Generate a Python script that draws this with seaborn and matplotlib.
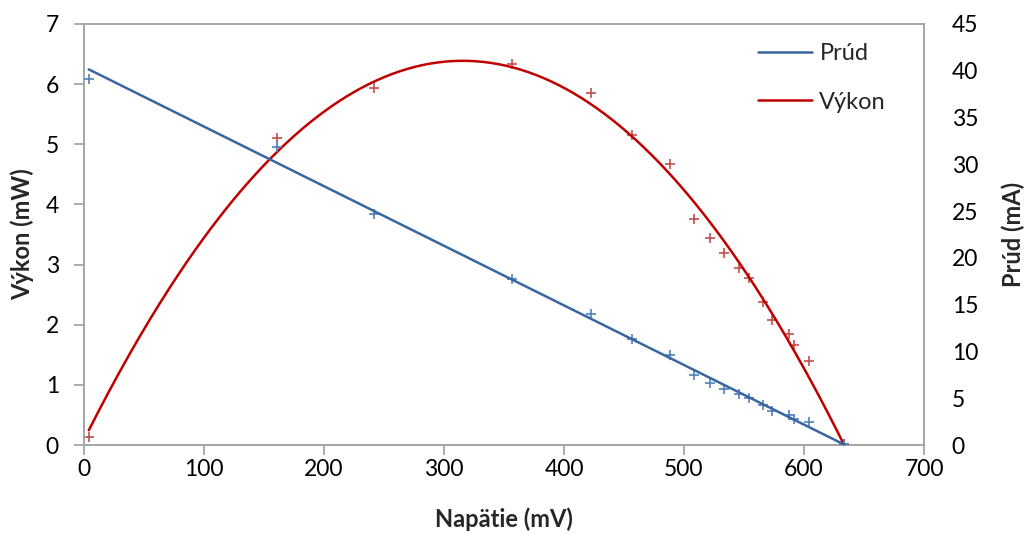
import numpy as np
import pandas as pd
import matplotlib
matplotlib.use("Agg")
import matplotlib.pyplot as plt
import seaborn as sns

# --- data ---
napatie_mV = [4, 160.6, 241.4, 356.5, 422.2, 456.4, 488.0, 508.5, 521.4, 533.5,
              545.8, 553.9, 566.0, 573.3, 587.6, 591.8, 604.4, 633.6]
prud_mA = [39.13, 31.83, 24.7, 17.75, 14.0, 11.33, 9.65, 7.43, 6.66, 5.99,
           5.45, 5.06, 4.28, 3.63, 3.21, 2.78, 2.43, 0.07]
vykon_mW = [0.14, 5.10, 5.93, 6.335, 5.86, 5.155, 4.68, 3.765, 3.44, 3.20,
            2.95, 2.77, 2.37, 2.08, 1.85, 1.67, 1.40, 0.02]

x_ticks = [0, 100, 200, 300, 400, 500, 600, 700]
left_ticks = [0, 1, 2, 3, 4, 5, 6, 7]
right_ticks = [0, 5, 10, 15, 20, 25, 30, 35, 40, 45]

df = pd.DataFrame({"U": napatie_mV, "I": prud_mA, "P": vykon_mW})

# trendlines (least-squares fits of the data, as in the spreadsheet)
xs = np.linspace(min(napatie_mV), max(napatie_mV), 300)
lin = np.polyfit(df["U"], df["I"], 1)
quad = np.polyfit(df["U"], df["P"], 2)
trend = pd.DataFrame({"U": xs, "I": np.polyval(lin, xs), "P": np.polyval(quad, xs)})

sns.set_theme(style="white")
plt.rcParams["font.family"] = ["Lato", "DejaVu Sans"]

FS_TICK = 16.5
FS_LAB = 17

fig = plt.figure(figsize=(10.30, 5.34), dpi=100)
ax = fig.add_axes([84 / 1030, 1 - 445 / 534, (924 - 84) / 1030, (445 - 24) / 534])
ax2 = ax.twinx()

BLUE_LINE = "#3A66A0"
BLUE_MARK = "#4F81BD"
RED_LINE = "#C00000"
RED_MARK = "#C0504D"

sns.scatterplot(data=df, x="U", y="P", ax=ax, marker="+", s=60, color=RED_MARK,
                linewidth=1.2, zorder=3, legend=False)
sns.lineplot(data=trend, x="U", y="P", ax=ax, color=RED_LINE, linewidth=1.8,
             label="Výkon", legend=False, zorder=4)
sns.scatterplot(data=df, x="U", y="I", ax=ax2, marker="+", s=60, color=BLUE_MARK,
                linewidth=1.2, zorder=3, legend=False)
sns.lineplot(data=trend, x="U", y="I", ax=ax2, color=BLUE_LINE, linewidth=1.8,
             label="Prúd", legend=False, zorder=4)

ax.set_xlim(0, 700)
ax.set_ylim(0, 7)
ax2.set_ylim(0, 45)
ax.set_xticks(x_ticks)
ax.set_yticks(left_ticks)
ax2.set_yticks(right_ticks)

ax.set_xlabel("Napätie (mV)", fontsize=FS_LAB, fontweight="bold", labelpad=20)
ax.set_ylabel("Výkon (mW)", fontsize=FS_LAB, fontweight="bold", labelpad=8)
ax2.set_ylabel("Prúd (mA)", fontsize=FS_LAB, fontweight="bold", labelpad=17)

spine_col = "#A6A6A6"
for a in (ax, ax2):
    for s in a.spines.values():
        s.set_color(spine_col)
        s.set_linewidth(1.3)
    a.grid(False)

ax.tick_params(axis="x", direction="out", length=7, width=1.3, color=spine_col,
               labelsize=FS_TICK, pad=3, bottom=True, labelcolor="black")
ax.tick_params(axis="y", direction="out", length=7, width=1.3, color=spine_col,
               labelsize=FS_TICK, pad=11, left=True, labelcolor="black")
ax2.tick_params(axis="y", length=0, labelsize=FS_TICK, pad=20, labelcolor="black")

h1, l1 = ax2.get_legend_handles_labels()
h0, l0 = ax.get_legend_handles_labels()
leg = ax2.legend(h1 + h0, l1 + l0, loc="center left",
                 bbox_to_anchor=(758 / 1030, 1 - 78 / 534), bbox_transform=fig.transFigure,
                 frameon=False, fontsize=FS_LAB, handlelength=2.3, handletextpad=0.3,
                 labelspacing=1.15, borderpad=0, borderaxespad=0)

fig.savefig("out.png", dpi=100)
